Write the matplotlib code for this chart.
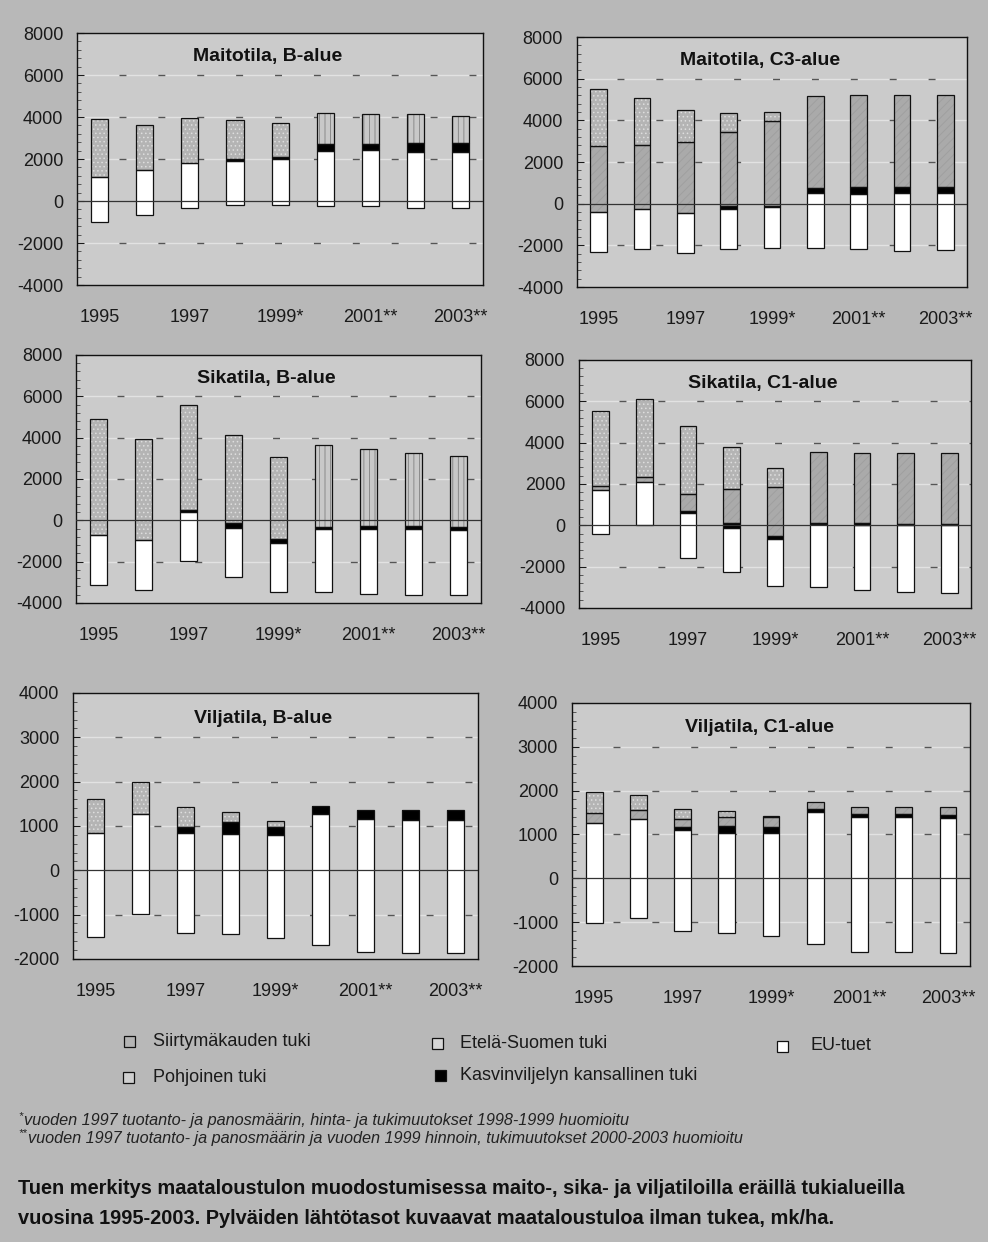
import numpy as np
import matplotlib
matplotlib.use('Agg')
import matplotlib.pyplot as plt
from matplotlib.patches import Rectangle
from matplotlib.ticker import MultipleLocator

plt.rcParams['font.family'] = ['Liberation Sans', 'DejaVu Sans']
plt.rcParams['hatch.linewidth'] = 0.6
plt.rcParams['axes.unicode_minus'] = False

years = ['1995', '1996', '1997', '1998', '1999*', '2000', '2001**', '2002', '2003**']

# mk/ha, bars start from income without support (base) and stack upwards
# Maitotila, B-alue
mb_base = [-990, -650, -320, -210, -210, -240, -240, -350, -350]
mb_eu = [2140, 2110, 2120, 2100, 2210, 2620, 2670, 2700, 2700]
mb_kasvi = [0, 0, 0, 130, 100, 350, 300, 430, 400]
mb_pohj = [0, 0, 0, 0, 0, 0, 0, 0, 0]
mb_etela = [0, 0, 0, 0, 0, 1480, 1400, 1350, 1300]
mb_siirt = [2750, 2180, 2160, 1840, 1600, 0, 0, 0, 0]

# Maitotila, C3-alue
mc_base = [-2320, -2190, -2370, -2160, -2110, -2130, -2160, -2250, -2240]
mc_eu = [1940, 1940, 1930, 1910, 1940, 2620, 2640, 2760, 2730]
mc_kasvi = [0, 0, 0, 120, 50, 260, 330, 300, 290]
mc_pohj = [3170, 3080, 3410, 3560, 4070, 4440, 4430, 4430, 4440]
mc_etela = [0, 0, 0, 0, 0, 0, 0, 0, 0]
mc_siirt = [2720, 2220, 1540, 920, 450, 0, 0, 0, 0]

# Sikatila, B-alue
sb_base = [-3110, -3370, -1960, -2750, -3490, -3490, -3570, -3610, -3610]
sb_eu = [2390, 2400, 2380, 2380, 2410, 3090, 3140, 3180, 3140]
sb_kasvi = [0, 0, 80, 230, 190, 100, 160, 160, 170]
sb_pohj = [0, 0, 0, 0, 0, 0, 0, 0, 0]
sb_etela = [0, 0, 0, 0, 0, 3960, 3700, 3540, 3420]
sb_siirt = [5600, 4880, 5060, 4250, 3970, 0, 0, 0, 0]

# Sikatila, C1-alue
sc_base = [-430, 0, -1590, -2270, -2930, -2990, -3150, -3230, -3280]
sc_eu = [2130, 2110, 2200, 2130, 2250, 3040, 3170, 3250, 3280]
sc_kasvi = [0, 0, 100, 250, 170, 80, 90, 60, 40]
sc_pohj = [210, 240, 800, 1650, 2370, 3420, 3410, 3440, 3450]
sc_etela = [0, 0, 0, 0, 0, 0, 0, 0, 0]
sc_siirt = [3640, 3740, 3310, 2040, 920, 0, 0, 0, 0]

# Viljatila, B-alue
vb_base = [-1510, -990, -1420, -1440, -1530, -1680, -1850, -1860, -1860]
vb_eu = [2340, 2260, 2260, 2250, 2330, 2950, 3000, 2990, 2990]
vb_kasvi = [0, 0, 140, 280, 180, 190, 220, 240, 230]
vb_pohj = [0, 0, 0, 0, 0, 0, 0, 0, 0]
vb_etela = [0, 0, 0, 0, 0, 0, 0, 0, 0]
vb_siirt = [780, 710, 450, 220, 140, 0, 0, 0, 0]

# Viljatila, C1-alue
vc_base = [-1010, -900, -1190, -1240, -1320, -1490, -1680, -1680, -1700]
vc_eu = [2280, 2250, 2300, 2280, 2350, 3010, 3070, 3070, 3070]
vc_kasvi = [0, 0, 70, 160, 130, 60, 70, 70, 80]
vc_pohj = [220, 210, 170, 210, 240, 170, 170, 170, 170]
vc_etela = [0, 0, 0, 0, 0, 0, 0, 0, 0]
vc_siirt = [490, 340, 230, 130, 30, 0, 0, 0, 0]

legend_names = ['Siirtymäkauden tuki', 'Etelä-Suomen tuki', 'EU-tuet',
                'Pohjoinen tuki', 'Kasvinviljelyn kansallinen tuki']

# face, hatch colour, hatch
st_eu = ('white', 'white', None)
st_kasvi = ('black', 'black', None)
st_pohj = ('#aaaaaa', '#9e9e9e', '////')
st_etela = ('#c8c8c8', '#808080', '|||')
st_siirt = ('#b4b4b4', '#dedede', '....')

panels = [
    ('Maitotila, B-alue', [mb_base, mb_eu, mb_kasvi, mb_pohj, mb_etela, mb_siirt],
     (-4000, 8000), 2000, 400, [0.078, 0.7705, 0.411, 0.2029]),
    ('Maitotila, C3-alue', [mc_base, mc_eu, mc_kasvi, mc_pohj, mc_etela, mc_siirt],
     (-4000, 8000), 2000, 400, [0.584, 0.7689, 0.3947, 0.2013]),
    ('Sikatila, B-alue', [sb_base, sb_eu, sb_kasvi, sb_pohj, sb_etela, sb_siirt],
     (-4000, 8000), 2000, 400, [0.077, 0.5145, 0.41, 0.1997]),
    ('Sikatila, C1-alue', [sc_base, sc_eu, sc_kasvi, sc_pohj, sc_etela, sc_siirt],
     (-4000, 8000), 2000, 400, [0.586, 0.5105, 0.3968, 0.1997]),
    ('Viljatila, B-alue', [vb_base, vb_eu, vb_kasvi, vb_pohj, vb_etela, vb_siirt],
     (-2000, 4000), 1000, 200, [0.074, 0.2279, 0.41, 0.2142]),
    ('Viljatila, C1-alue', [vc_base, vc_eu, vc_kasvi, vc_pohj, vc_etela, vc_siirt],
     (-2000, 4000), 1000, 200, [0.579, 0.2222, 0.4028, 0.2118]),
]

outer = '#b8b8b8'
inner = '#cbcbcb'

fig = plt.figure(figsize=(9.88, 12.42), dpi=100)
fig.patch.set_facecolor(outer)

for title, series, ylim, major, minor, rect in panels:
    ax = fig.add_axes(rect)
    ax.set_facecolor(inner)
    x = np.arange(len(years))
    bottom = np.array(series[0], float)
    for vals, (fc, hc, ht) in zip(series[1:], [st_eu, st_kasvi, st_pohj, st_etela, st_siirt]):
        vals = np.array(vals, float)
        m = vals > 0
        if m.any():
            ax.bar(x[m], vals[m], bottom=bottom[m], width=0.38, facecolor=fc,
                   edgecolor=hc, hatch=ht, linewidth=0, zorder=3)
            ax.bar(x[m], vals[m], bottom=bottom[m], width=0.38, fill=False,
                   edgecolor='#111111', linewidth=0.9, zorder=4)
        bottom = bottom + vals

    # grid: faint white line with short dark dashes
    for yv in range(ylim[0] + major, ylim[1], major):
        if yv == 0:
            continue
        ax.axhline(yv, color='#e2e2e2', lw=1.0, zorder=1)
        ax.plot([0.42, 8.5], [yv, yv], color='#555555', lw=1.0,
                linestyle=(0, (5, 23)), zorder=2)
    ax.axhline(0, color='#333333', lw=0.9, zorder=5)

    ax.set_xlim(-0.5, 8.5)
    ax.set_ylim(*ylim)
    ax.set_xticks(x[::2])
    ax.set_xticklabels(years[::2])
    ax.set_yticks(range(ylim[0], ylim[1] + 1, major))
    ax.yaxis.set_minor_locator(MultipleLocator(minor))
    ax.tick_params(axis='x', length=0, pad=17, labelsize=13, colors='#1a1a1a')
    ax.tick_params(axis='y', which='major', direction='in', length=5, width=0.8,
                   pad=10, labelsize=13, colors='#1a1a1a')
    ax.tick_params(axis='y', which='minor', direction='in', length=3, width=0.6,
                   colors='#444444')
    for s in ax.spines.values():
        s.set_color('#111111')
        s.set_linewidth(1.0)
    ax.text(0.47, 0.905, title, transform=ax.transAxes, ha='center', va='center',
            fontsize=14, fontweight='bold', color='#111111')

# legend
W, H = 988.0, 1242.0
leg = [
    (129, 1041, 153, st_siirt, legend_names[0]),
    (437, 1043, 460, ('#d6d6d6', '#d6d6d6', None), legend_names[1]),
    (782, 1046, 810, st_eu, legend_names[2]),
    (128, 1077, 153, ('#cfcfcf', '#cfcfcf', None), legend_names[3]),
    (440, 1075, 460, st_kasvi, legend_names[4]),
]
sq = 11
for cx, cy, tx, (fc, hc, ht), name in leg:
    fig.add_artist(Rectangle(((cx - sq / 2) / W, 1 - (cy + sq / 2) / H), sq / W, sq / H,
                             facecolor=fc, edgecolor='#111111', linewidth=0.9,
                             transform=fig.transFigure))
    fig.text(tx / W, 1 - cy / H, name, ha='left', va='center', fontsize=13,
             color='#1a1a1a')

# footnotes
fig.text(18 / W, 1 - 1116 / H, '*', fontsize=8, style='italic', ha='left', va='center',
         color='#222222')
fig.text(24 / W, 1 - 1121 / H,
         'vuoden 1997 tuotanto- ja panosmäärin, hinta- ja tukimuutokset 1998-1999 huomioitu',
         fontsize=11.7, style='italic', ha='left', va='center', color='#222222')
fig.text(18 / W, 1 - 1133 / H, '**', fontsize=8, style='italic', ha='left', va='center',
         color='#222222')
fig.text(28 / W, 1 - 1138 / H,
         'vuoden 1997 tuotanto- ja panosmäärin ja vuoden 1999 hinnoin, tukimuutokset 2000-2003 huomioitu',
         fontsize=11.7, style='italic', ha='left', va='center', color='#222222')

# caption
fig.text(18 / W, 1 - 1188 / H,
         'Tuen merkitys maataloustulon muodostumisessa maito-, sika- ja viljatiloilla eräillä tukialueilla',
         fontsize=14.4, fontweight='bold', ha='left', va='center', color='#111111')
fig.text(18 / W, 1 - 1218 / H,
         'vuosina 1995-2003. Pylväiden lähtötasot kuvaavat maataloustuloa ilman tukea, mk/ha.',
         fontsize=14.4, fontweight='bold', ha='left', va='center', color='#111111')

fig.savefig('out.png', dpi=100, facecolor=fig.get_facecolor())
